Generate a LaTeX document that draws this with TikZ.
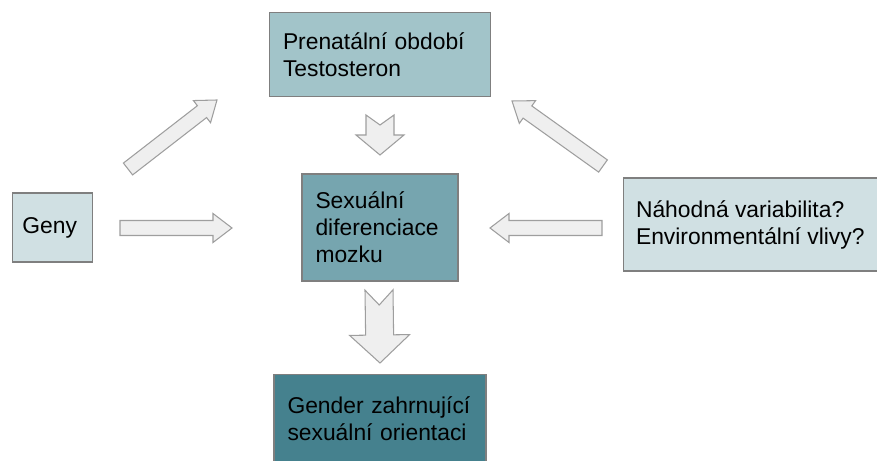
\documentclass[tikz,border=0pt]{standalone}
\usepackage{fontspec}
\setmainfont{Liberation Sans}
\usepackage{tikz}
\usetikzlibrary{calc,positioning}
\definecolor{PaleTeal}{HTML}{D0E0E3}
\definecolor{LightTeal}{HTML}{A2C4C9}
\definecolor{MidTeal}{HTML}{76A5AF}
\definecolor{DarkTeal}{HTML}{45818E}
\definecolor{BoxGray}{HTML}{7F7F7F}
\definecolor{ArrowFill}{HTML}{EFEFEF}
\definecolor{ArrowGray}{HTML}{9E9E9E}

% block arrow: tail, tip, shaft half width, head half width, head length, notch depth
\newcommand{\blockarrow}[6]{%
  \draw[blockarr] ($(#1)!#6!(#2)$) -- ($(#1)!#3!90:(#2)$)
    -- ($(#2)!#5!(#1)!#3!90:(#2)$) -- ($(#2)!#5!(#1)!#4!90:(#2)$)
    -- (#2)
    -- ($(#2)!#5!(#1)!#4!-90:(#2)$) -- ($(#2)!#5!(#1)!#3!-90:(#2)$)
    -- ($(#1)!#3!-90:(#2)$) -- cycle;%
}

\begin{document}
\begin{tikzpicture}[
        box/.style={rectangle, draw=BoxGray, line width=0.6pt, align=left, inner xsep=0.27cm, inner ysep=0pt, font=\fontsize{13pt}{15.4pt}\selectfont},
        blockarr/.style={draw=ArrowGray, fill=ArrowFill, line width=0.6pt, line join=miter}
      ]
        \useasboundingbox (0,0) rectangle (17.54,-9.22);

        % Boxes
        \node[box, fill=MidTeal, minimum width=3.12cm, minimum height=2.14cm, text width=2.58cm] (mozek) at (7.6,-4.55) {
          Sexuální\\diferenciace\\mozku
        };

        \node[box, fill=LightTeal, minimum width=4.42cm, minimum height=1.68cm, text width=3.88cm, above=1.52cm of mozek] (prenatal) {
          Prenatální období\\Testosteron
        };

        \node[box, fill=PaleTeal, minimum width=1.6cm, minimum height=1.38cm, inner xsep=0.1cm, align=center, left=4.16cm of mozek] (geny) {
          Geny
        };

        \node[box, fill=PaleTeal, minimum width=5.06cm, minimum height=1.86cm, inner xsep=0.25cm, anchor=west] (nahoda) at (12.46,-4.49) {
          Náhodná variabilita?\\Environmentální vlivy?
        };

        \node[box, fill=DarkTeal, minimum width=4.24cm, minimum height=1.8cm, text width=3.7cm, below=1.84cm of mozek] (gender) {
          Gender zahrnující\\sexuální orientaci
        };

        % Arrow ends
        \coordinate (genyA) at (2.4,-4.56);
        \coordinate (genyB) at (4.64,-4.56);
        \coordinate (genyC) at (2.56,-3.38);
        \coordinate (genyD) at (4.34,-2.0);
        \coordinate (nahodaA) at (12.04,-4.56);
        \coordinate (nahodaB) at (9.8,-4.56);
        \coordinate (nahodaC) at (12.06,-3.32);
        \coordinate (nahodaD) at (10.24,-2.02);
        \coordinate (prenatalA) at (7.6,-2.3);
        \coordinate (prenatalB) at (7.6,-3.1);
        \coordinate (mozekA) at (7.58,-5.8);
        \coordinate (mozekB) at (7.6,-7.26);

        % Arrows
        \blockarrow{genyA}{genyB}{0.15cm}{0.29cm}{0.38cm}{0cm}
        \blockarrow{genyC}{genyD}{0.15cm}{0.28cm}{0.38cm}{0cm}
        \blockarrow{nahodaA}{nahodaB}{0.15cm}{0.29cm}{0.38cm}{0cm}
        \blockarrow{nahodaC}{nahodaD}{0.15cm}{0.28cm}{0.38cm}{0cm}
        \blockarrow{prenatalA}{prenatalB}{0.28cm}{0.48cm}{0.4cm}{0.2cm}
        \blockarrow{mozekA}{mozekB}{0.28cm}{0.6cm}{0.56cm}{0.3cm}

      \end{tikzpicture}
\end{document}
